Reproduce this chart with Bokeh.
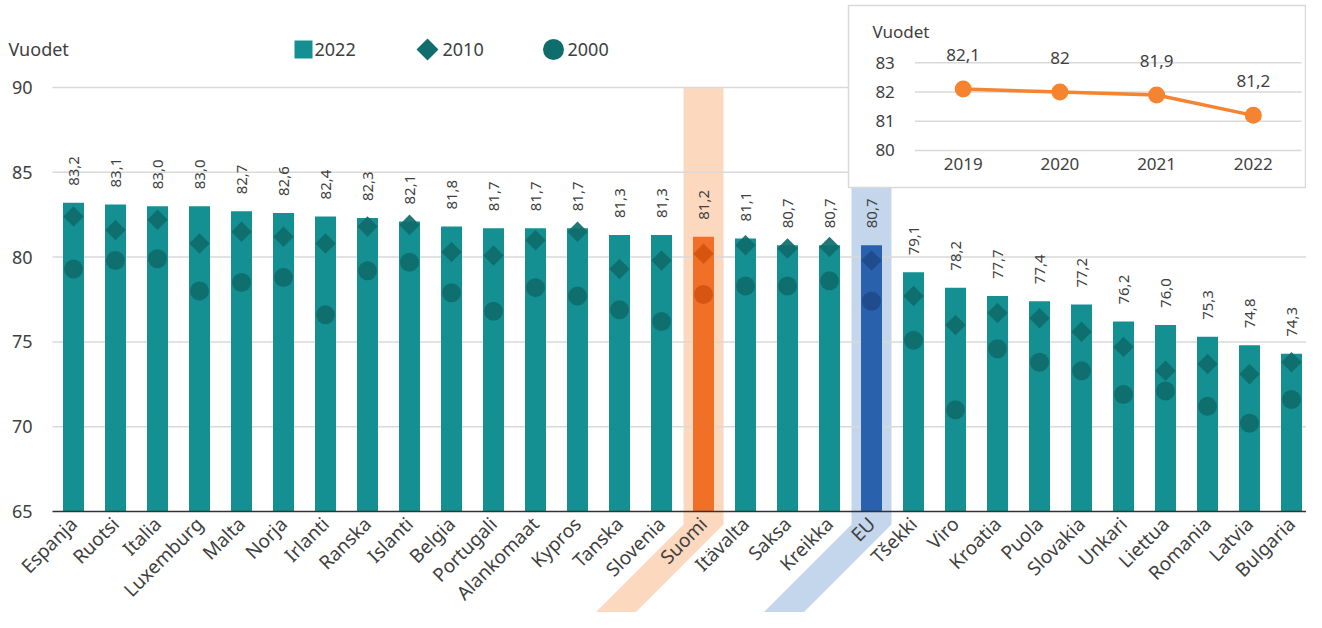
import math
from bokeh.plotting import figure
from bokeh.models import Range1d, LinearAxis, FixedTicker, ColumnDataSource
from bokeh.core.properties import value
from bokeh.embed import file_html
from bokeh.resources import INLINE

# ---------------- data ----------------
countries = ["Espanja", "Ruotsi", "Italia", "Luxemburg", "Malta", "Norja", "Irlanti",
             "Ranska", "Islanti", "Belgia", "Portugali", "Alankomaat", "Kypros", "Tanska",
             "Slovenia", "Suomi", "Itävalta", "Saksa", "Kreikka", "EU", "Tšekki", "Viro",
             "Kroatia", "Puola", "Slovakia", "Unkari", "Liettua", "Romania", "Latvia",
             "Bulgaria"]
v2022 = [83.2, 83.1, 83.0, 83.0, 82.7, 82.6, 82.4, 82.3, 82.1, 81.8, 81.7, 81.7, 81.7,
         81.3, 81.3, 81.2, 81.1, 80.7, 80.7, 80.7, 79.1, 78.2, 77.7, 77.4, 77.2, 76.2,
         76.0, 75.3, 74.8, 74.3]
v2010 = [82.4, 81.6, 82.2, 80.8, 81.5, 81.2, 80.8, 81.8, 81.9, 80.3, 80.1, 81.0, 81.5,
         79.3, 79.8, 80.2, 80.7, 80.5, 80.6, 79.8, 77.7, 76.0, 76.7, 76.4, 75.6, 74.7,
         73.3, 73.7, 73.1, 73.8]
v2000 = [79.3, 79.8, 79.9, 78.0, 78.5, 78.8, 76.6, 79.2, 79.7, 77.9, 76.8, 78.2, 77.7,
         76.9, 76.2, 77.8, 78.3, 78.3, 78.6, 77.4, 75.1, 71.0, 74.6, 73.8, 73.3, 71.9,
         72.1, 71.2, 70.2, 71.6]
series_names = ["2022", "2010", "2000"]
y_ticks = [65, 70, 75, 80, 85, 90]

inset_years = ["2019", "2020", "2021", "2022"]
inset_fi = [82.1, 82.0, 81.9, 81.2]
inset_ticks = [80, 81, 82, 83]
unit_label = "Vuodet"

# ---------------- style ----------------
TEAL, TEAL_D = "#149092", "#0f6d6c"
OR, OR_D, OR_L = "#f07027", "#d4530f", "#fcd8bf"
BL, BL_D, BL_L = "#2a61ad", "#1f4b8c", "#c4d6ec"
GRID, TXT, AXIS = "#d9d9d9", "#404040", "#333333"
LINE_OR = "#f5832f"
FONT = "Noto Sans"

PX = 42.0    # pixels per category
PY = 16.96   # pixels per year (main)
W, H = 1306, 612

def fx(px):  # canvas pixel -> main x data
    return -0.5 + (px - 52) / PX

def fy(py):  # canvas pixel -> main y data
    return 65 + (511 - py) / PY

IPX, IPY, IX0 = 96.7, 29.2, 962.7
def ix(px):
    return (px - IX0) / IPX

def iy(py):
    return 83 + (62.3 - py) / IPY

p = figure(width=W, height=H, output_backend="svg", toolbar_location=None,
           x_range=Range1d(fx(0), fx(W)), y_range=Range1d(fy(H), fy(0)),
           x_axis_type=None, y_axis_type=None, min_border=0,
           outline_line_color=None, background_fill_color="white",
           border_fill_color="white")
p.extra_x_ranges = {"ix": Range1d(ix(0), ix(W))}
p.extra_y_ranges = {"iy": Range1d(iy(H), iy(0))}

n = len(countries)
idx = list(range(n))
highlight = {"Suomi": (OR, OR_D, OR_L), "EU": (BL, BL_D, BL_L)}

# highlight bands (vertical + slanted strip behind label)
hw = 20 / PX
yb = 65 - 13 / PY
D = 150
for name, (_, _, light) in highlight.items():
    i = countries.index(name)
    xs = [i - hw, i + hw, i + hw, i + hw - D / PX, i - hw - D / PX, i - hw]
    ys = [90, 90, yb, yb - D / PY, yb - D / PY, yb]
    p.patch(xs, ys, fill_color=light, line_color=None)

# gridlines
gl = [t for t in y_ticks if t > 65]
p.segment(x0=[-0.5] * len(gl), x1=[n - 0.5] * len(gl), y0=gl, y1=gl,
          line_color=GRID, line_width=1.5)

bar_c = [highlight.get(c, (TEAL, TEAL_D, None))[0] for c in countries]
mk_c = [highlight.get(c, (TEAL, TEAL_D, None))[1] for c in countries]
labels = [f"{v:.1f}".replace(".", ",") for v in v2022]
src = ColumnDataSource(dict(x=idx, top=v2022, y10=v2010, y00=v2000,
                            c=bar_c, mc=mk_c, lab=labels))

p.vbar(x="x", top="top", bottom=65, width=0.5, fill_color="c", line_color=None, source=src)
p.scatter(x="x", y="y10", marker="square", angle=math.pi / 4, size=14.5,
          fill_color="mc", line_color=None, fill_alpha=0.92, source=src)
p.scatter(x="x", y="y00", marker="circle", size=19,
          fill_color="mc", line_color=None, fill_alpha=0.92, source=src)
p.text(x="x", y="top", text="lab", angle=math.pi / 2, text_align="left",
       text_baseline="middle", y_offset=-17, text_font=value(FONT),
       text_font_size="15px", text_color=TXT, source=src)

# axes
xa = LinearAxis(fixed_location=65, ticker=FixedTicker(ticks=idx), bounds=(-0.5, n - 0.5))
xa.major_label_overrides = {i: c for i, c in enumerate(countries)}
xa.major_label_orientation = math.pi / 4
xa.axis_line_color = AXIS
xa.axis_line_width = 1.5
xa.major_tick_line_color = None
xa.minor_tick_line_color = None
xa.major_tick_in = 0
xa.major_tick_out = 0
xa.major_label_standoff = 9
xa.major_label_text_font = FONT
xa.major_label_text_font_size = "19px"
xa.major_label_text_color = TXT
p.add_layout(xa, "below")

ya = LinearAxis(fixed_location=-0.5, ticker=FixedTicker(ticks=y_ticks), bounds=(65, 90))
ya.axis_line_color = None
ya.major_tick_line_color = None
ya.minor_tick_line_color = None
ya.major_tick_in = 0
ya.major_tick_out = 0
ya.major_label_standoff = 20
ya.major_label_text_font = FONT
ya.major_label_text_font_size = "18px"
ya.major_label_text_color = TXT
p.add_layout(ya, "left")

# unit label
p.text(x=[fx(8)], y=[fy(48)], text=[unit_label], text_align="left", text_baseline="middle",
       text_font=value(FONT), text_font_size="18px", text_color=TXT)

# legend (manual)
ly = fy(49)
p.scatter(x=[fx(303)], y=[ly], marker="square", size=18, fill_color=TEAL, line_color=None)
p.scatter(x=[fx(427)], y=[ly], marker="square", angle=math.pi / 4, size=15.5,
          fill_color=TEAL_D, line_color=None)
p.scatter(x=[fx(553)], y=[ly], marker="circle", size=21, fill_color=TEAL_D, line_color=None)
p.text(x=[fx(314), fx(442), fx(567)], y=[ly] * 3, text=series_names, text_align="left",
       text_baseline="middle", text_font=value(FONT), text_font_size="18px", text_color=TXT)

# ---------------- inset ----------------
R = dict(x_range_name="ix", y_range_name="iy")
p.quad(left=[ix(848)], right=[ix(1305)], bottom=[iy(187)], top=[iy(5)],
       fill_color="white", line_color=GRID, line_width=1.5, **R)
kk = list(range(len(inset_years)))
p.segment(x0=[-0.5] * 4, x1=[len(kk) - 0.5] * 4, y0=inset_ticks, y1=inset_ticks,
          line_color=GRID, line_width=1.5, **R)
p.line(x=kk, y=inset_fi, line_color=LINE_OR, line_width=3.5, **R)
p.scatter(x=kk, y=inset_fi, marker="circle", size=17, fill_color=LINE_OR, line_color=None, **R)
ilabels = [("%g" % v).replace(".", ",") for v in inset_fi]
p.text(x=kk, y=inset_fi, text=ilabels, text_align="center", text_baseline="middle",
       y_offset=-34, text_font=value(FONT), text_font_size="17px", text_color=TXT, **R)
p.text(x=[ix(872)], y=[iy(31)], text=[unit_label], text_align="left", text_baseline="middle",
       text_font=value(FONT), text_font_size="17px", text_color=TXT, **R)

ixa = LinearAxis(x_range_name="ix", y_range_name="iy", fixed_location=80,
                 ticker=FixedTicker(ticks=kk), bounds=(-0.5, len(kk) - 0.5))
ixa.major_label_overrides = {k: y for k, y in enumerate(inset_years)}
ixa.axis_line_color = None
ixa.major_tick_line_color = None
ixa.minor_tick_line_color = None
ixa.major_tick_in = 0
ixa.major_tick_out = 0
ixa.major_label_standoff = 8
ixa.major_label_text_font = FONT
ixa.major_label_text_font_size = "17px"
ixa.major_label_text_color = TXT
p.add_layout(ixa, "below")

iya = LinearAxis(x_range_name="ix", y_range_name="iy", fixed_location=-0.5,
                 ticker=FixedTicker(ticks=inset_ticks), bounds=(80, 83))
iya.axis_line_color = None
iya.major_tick_line_color = None
iya.minor_tick_line_color = None
iya.major_tick_in = 0
iya.major_tick_out = 0
iya.major_label_standoff = 20
iya.major_label_text_font = FONT
iya.major_label_text_font_size = "17px"
iya.major_label_text_color = TXT
p.add_layout(iya, "left")

open("out.html", "w").write(file_html(p, INLINE))
